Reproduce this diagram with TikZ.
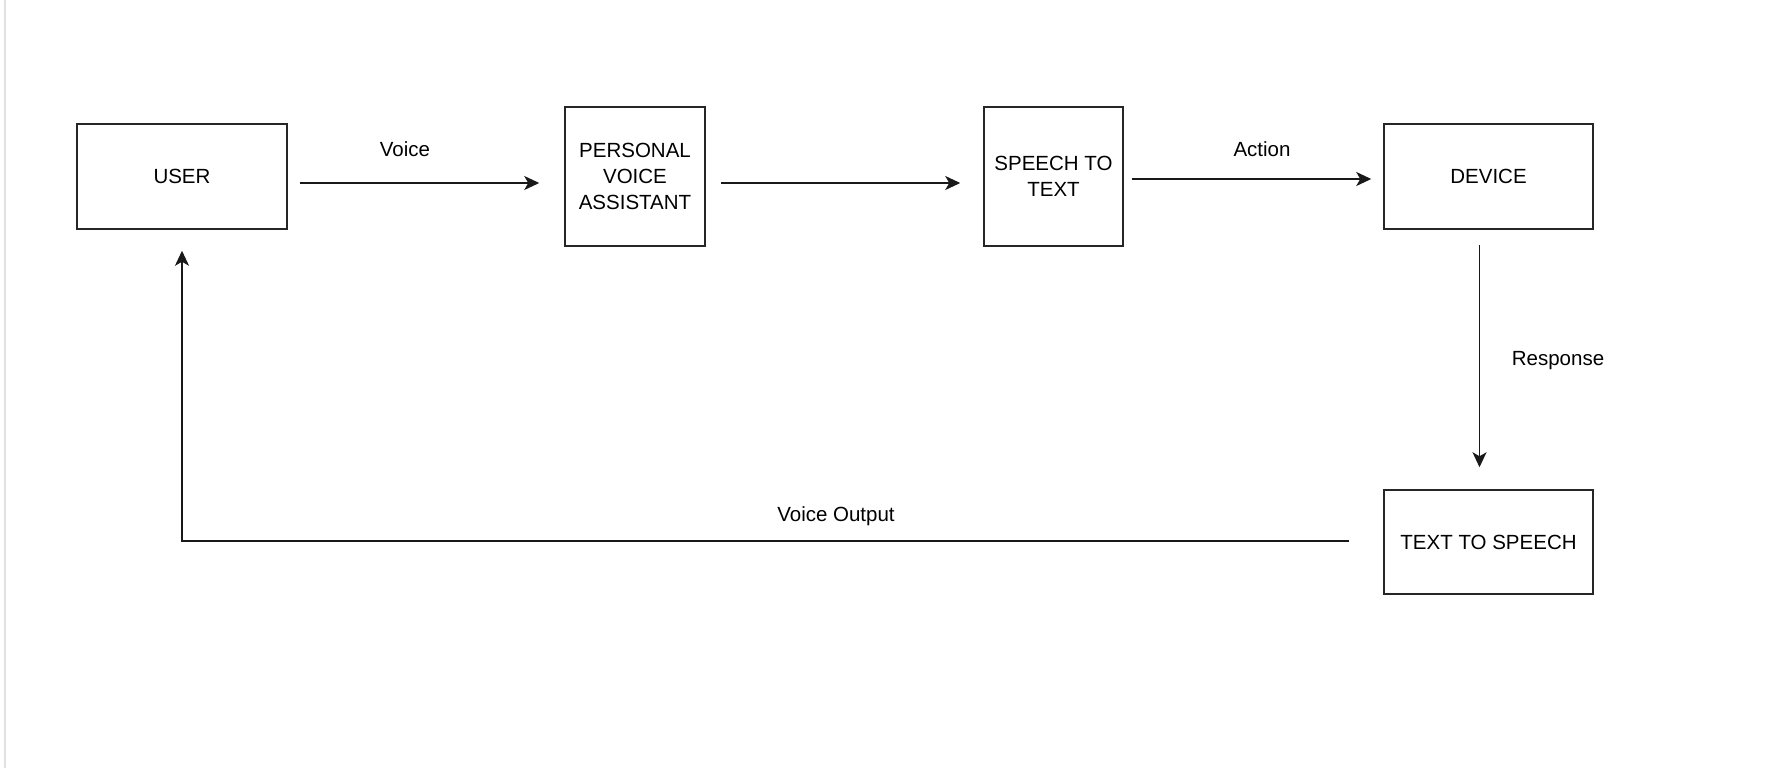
\documentclass[tikz,border=0pt]{standalone}
\usepackage{fontspec}
\setmainfont{Liberation Sans}
\usetikzlibrary{arrows.meta}
\begin{document}
\begin{tikzpicture}[x=1pt,y=-1pt,
  every node/.style={font=\fontsize{20.5}{25.6}\selectfont},
  blk/.style={draw=black!85, line width=1.5pt, inner sep=0pt, align=center},
  arr/.style={draw=black!90, line width=1.6pt, -{Stealth[length=15pt,width=14pt,inset=4pt]}},
  lbl/.style={inner sep=0pt}
]
\useasboundingbox (0,0) rectangle (1783,768);
\fill[white] (0,0) rectangle (1783,768);
\draw[black!12, line width=2.5pt] (5,0) -- (5,768);

\node[blk, minimum width=210pt, minimum height=105pt] (user) at (182,176.5) {USER};
\node[blk, minimum width=140pt, minimum height=139pt] (pva) at (635,176.5) {PERSONAL\\VOICE\\ASSISTANT};
\node[blk, minimum width=139pt, minimum height=139pt] (stt) at (1053.5,176.5) {SPEECH TO\\TEXT};
\node[blk, minimum width=209pt, minimum height=105pt] (dev) at (1488.5,176.5) {DEVICE};
\node[blk, minimum width=209pt, minimum height=104pt] (tts) at (1488.5,542) {TEXT TO SPEECH};

\draw[arr] ([xshift=12pt,yshift=-6.5pt]user.east) -- ([xshift=-25pt,yshift=-6.5pt]pva.west);
\draw[arr] ([xshift=15pt,yshift=-6.5pt]pva.east) -- ([xshift=-23pt,yshift=-6.5pt]stt.west);
\draw[arr] ([xshift=8pt,yshift=-2.5pt]stt.east) -- ([xshift=-12pt,yshift=-2.5pt]dev.west);
\draw[arr] ([xshift=-9pt,yshift=-15pt]dev.south) -- ([xshift=-9pt,yshift=22pt]tts.north);
\coordinate (vo) at ([xshift=-34pt,yshift=1pt]tts.west);
\draw[arr] (vo) -| ([yshift=-21pt]user.south);

\node[lbl] (lvoice) at (405,149) {Voice};
\node[lbl] (laction) at (1262,149) {Action};
\node[lbl] (lresp) at (1558,361) {Response};
\node[lbl] (lvo) at (836,516) {Voice Output};
\end{tikzpicture}
\end{document}
